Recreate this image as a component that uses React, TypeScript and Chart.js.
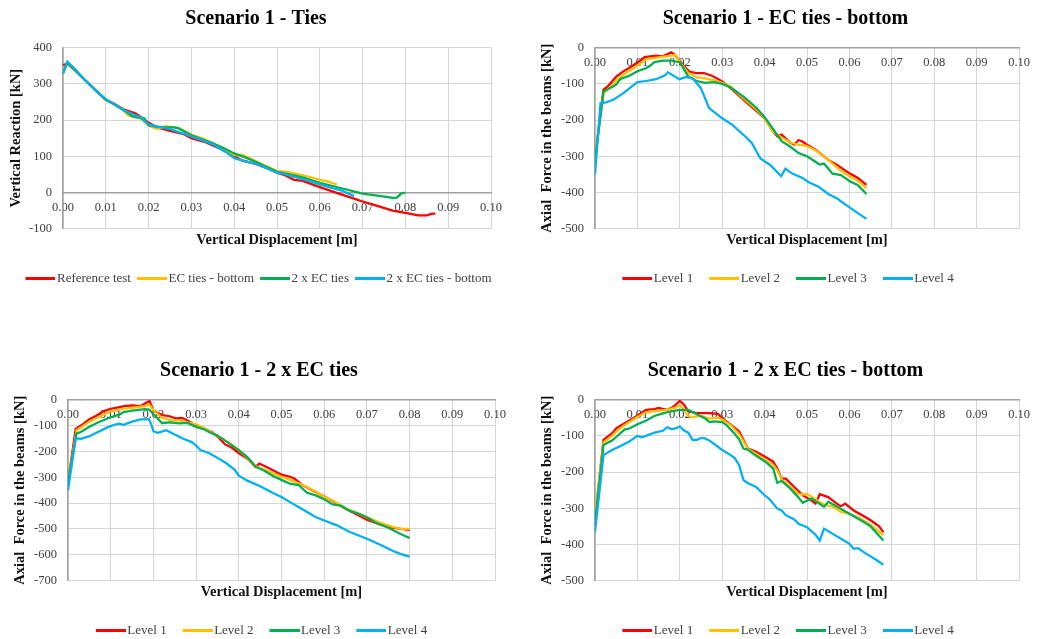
import React, { useEffect, useRef } from 'react';
import { Chart, registerables } from 'chart.js';

Chart.register(...registerables);

// ---------------- Colours ----------------
const RED = '#ff0000';
const YELLOW = '#ffc000';
const GREEN = '#00b050';
const BLUE = '#00b0f0';

// ---------------- Tick settings ----------------
const X_MIN = 0;
const X_MAX = 0.1;
const X_STEP = 0.01;
const Y_STEP = 100;

// ---------------- Panel 1 : Scenario 1 - Ties ----------------
const p1RefX = [0, 0.001, 0.003, 0.005, 0.008, 0.01, 0.012, 0.014, 0.015, 0.017, 0.02, 0.022, 0.025, 0.028, 0.03, 0.033, 0.035, 0.038, 0.04, 0.042, 0.045, 0.048, 0.05, 0.052, 0.054, 0.056, 0.06, 0.065, 0.068, 0.07, 0.074, 0.077, 0.08, 0.083, 0.085, 0.086, 0.087];
const p1RefY = [352, 356, 335, 312, 278, 256, 245, 230, 226, 218, 193, 180, 170, 162, 150, 140, 130, 114, 100, 88, 79, 66, 55, 47, 35, 32, 15, -5, -17, -25, -39, -50, -56, -63, -63, -59, -58];
const p1EcbX = [0, 0.001, 0.003, 0.005, 0.008, 0.01, 0.012, 0.014, 0.015, 0.016, 0.018, 0.02, 0.022, 0.024, 0.026, 0.027, 0.03, 0.033, 0.035, 0.038, 0.04, 0.042, 0.045, 0.048, 0.05, 0.052, 0.055, 0.058, 0.06, 0.062, 0.064];
const p1EcbY = [330, 358, 336, 312, 278, 256, 243, 228, 215, 210, 205, 185, 175, 183, 180, 178, 160, 148, 136, 118, 103, 104, 87, 70, 60, 58, 50, 42, 35, 30, 22];
const p1Ec2X = [0, 0.001, 0.003, 0.005, 0.008, 0.01, 0.012, 0.014, 0.016, 0.017, 0.019, 0.02, 0.022, 0.024, 0.026, 0.027, 0.03, 0.033, 0.035, 0.038, 0.04, 0.043, 0.045, 0.048, 0.05, 0.053, 0.056, 0.06, 0.063, 0.066, 0.07, 0.073, 0.076, 0.077, 0.078, 0.079, 0.08];
const p1Ec2Y = [330, 358, 336, 312, 278, 256, 243, 230, 212, 208, 205, 185, 182, 180, 180, 177, 158, 145, 136, 120, 108, 95, 85, 68, 57, 50, 42, 27, 18, 9, -3, -8, -13, -15, -14, -3, 0];
const p1Ec2bX = [0, 0.001, 0.003, 0.005, 0.008, 0.01, 0.012, 0.014, 0.016, 0.018, 0.02, 0.022, 0.025, 0.028, 0.03, 0.033, 0.035, 0.038, 0.04, 0.042, 0.045, 0.048, 0.05, 0.052, 0.055, 0.058, 0.06, 0.063, 0.065, 0.068];
const p1Ec2bY = [328, 362, 338, 312, 278, 258, 244, 228, 218, 208, 188, 182, 175, 163, 155, 142, 133, 112, 95, 88, 80, 65, 55, 50, 40, 30, 22, 12, 6, -10];

// ---------------- Panel 2 : Scenario 1 - EC ties - bottom ----------------
const p2L1X = [0, 0.002, 0.003, 0.005, 0.0066, 0.0086, 0.01, 0.0117, 0.0144, 0.016, 0.018, 0.0187, 0.0195, 0.0207, 0.0222, 0.0238, 0.0257, 0.0277, 0.03, 0.0324, 0.0355, 0.0378, 0.04, 0.042, 0.043, 0.044, 0.046, 0.047, 0.048, 0.049, 0.05, 0.052, 0.055, 0.057, 0.06, 0.062, 0.064];
const p2L1Y = [-306, -116, -107, -80, -66, -52, -41, -26, -22, -24, -13, -19, -29, -47, -66, -70, -70, -78, -93, -116, -149, -172, -195, -232, -245, -240, -262, -268, -255, -260, -268, -282, -310, -323, -347, -360, -379];
const p2L2X = [0, 0.002, 0.004, 0.005, 0.007, 0.01, 0.012, 0.015, 0.018, 0.019, 0.02, 0.022, 0.024, 0.026, 0.028, 0.03, 0.032, 0.035, 0.038, 0.04, 0.042, 0.044, 0.046, 0.048, 0.05, 0.052, 0.055, 0.058, 0.06, 0.062, 0.064];
const p2L2Y = [-300, -126, -105, -90, -72, -50, -32, -27, -22, -20, -40, -70, -82, -85, -90, -97, -108, -140, -170, -195, -232, -248, -262, -268, -272, -283, -310, -340, -355, -368, -388];
const p2L3X = [0, 0.002, 0.003, 0.005, 0.006, 0.008, 0.01, 0.012, 0.013, 0.014, 0.016, 0.018, 0.02, 0.021, 0.022, 0.024, 0.026, 0.028, 0.03, 0.032, 0.035, 0.038, 0.04, 0.042, 0.044, 0.046, 0.048, 0.05, 0.052, 0.053, 0.054, 0.056, 0.058, 0.06, 0.062, 0.064];
const p2L3Y = [-310, -121, -115, -102, -86, -78, -65, -57, -50, -40, -36, -36, -40, -60, -80, -92, -97, -95, -100, -110, -135, -165, -192, -225, -258, -273, -291, -300, -315, -323, -320, -348, -352, -368, -380, -404];
const p2L4X = [0, 0.0013, 0.0023, 0.0043, 0.0066, 0.01, 0.012, 0.0144, 0.0165, 0.0172, 0.0199, 0.0215, 0.023, 0.025, 0.0269, 0.03, 0.0324, 0.0355, 0.037, 0.039, 0.0413, 0.0439, 0.0449, 0.0464, 0.0488, 0.0503, 0.0527, 0.055, 0.057, 0.06, 0.062, 0.064];
const p2L4Y = [-350, -153, -152, -144, -126, -95, -92, -87, -76, -68, -87, -81, -84, -112, -167, -195, -213, -246, -264, -306, -324, -355, -334, -347, -359, -371, -384, -404, -416, -441, -457, -473];

// ---------------- Panel 3 : Scenario 1 - 2 x EC ties ----------------
const p3L1X = [0, 0.0018, 0.0034, 0.0049, 0.0065, 0.0084, 0.01, 0.0115, 0.0131, 0.015, 0.017, 0.0181, 0.0191, 0.0201, 0.0213, 0.0224, 0.0236, 0.0252, 0.0267, 0.0283, 0.03, 0.0322, 0.0337, 0.0353, 0.0368, 0.0384, 0.04, 0.0423, 0.0439, 0.0448, 0.047, 0.05, 0.052, 0.053, 0.055, 0.058, 0.06, 0.062, 0.065, 0.068, 0.07, 0.073, 0.076, 0.078, 0.08];
const p3L1Y = [-320, -113, -96, -76, -63, -44, -35, -31, -25, -22, -25, -14, -5, -44, -53, -61, -63, -72, -70, -83, -102, -115, -125, -147, -173, -186, -206, -232, -260, -247, -264, -290, -298, -305, -331, -357, -374, -392, -422, -447, -464, -482, -495, -500, -503];
const p3L2X = [0, 0.002, 0.005, 0.01, 0.013, 0.015, 0.018, 0.019, 0.02, 0.022, 0.024, 0.026, 0.028, 0.03, 0.032, 0.035, 0.038, 0.04, 0.042, 0.044, 0.046, 0.048, 0.05, 0.052, 0.055, 0.058, 0.06, 0.062, 0.065, 0.068, 0.07, 0.073, 0.076, 0.078, 0.08];
const p3L2Y = [-320, -118, -85, -45, -35, -32, -25, -18, -40, -70, -80, -80, -88, -95, -110, -140, -170, -195, -225, -258, -270, -285, -298, -310, -330, -355, -375, -390, -420, -440, -455, -475, -492, -500, -500];
const p3L3X = [0, 0.002, 0.003, 0.005, 0.007, 0.01, 0.012, 0.013, 0.015, 0.018, 0.019, 0.02, 0.022, 0.024, 0.026, 0.028, 0.03, 0.032, 0.033, 0.035, 0.038, 0.04, 0.042, 0.044, 0.046, 0.048, 0.05, 0.052, 0.054, 0.056, 0.058, 0.06, 0.062, 0.064, 0.066, 0.068, 0.07, 0.072, 0.075, 0.078, 0.08];
const p3L3Y = [-320, -130, -125, -105, -88, -68, -58, -48, -42, -36, -38, -55, -90, -88, -92, -90, -105, -115, -125, -138, -172, -195, -222, -260, -275, -295, -310, -325, -330, -360, -370, -385, -405, -410, -430, -440, -455, -475, -495, -520, -535];
const p3L4X = [0, 0.0018, 0.003, 0.005, 0.007, 0.009, 0.01, 0.011, 0.012, 0.013, 0.015, 0.017, 0.019, 0.0195, 0.02, 0.021, 0.023, 0.025, 0.027, 0.029, 0.03, 0.031, 0.033, 0.035, 0.037, 0.039, 0.04, 0.042, 0.045, 0.048, 0.05, 0.052, 0.055, 0.058, 0.06, 0.063, 0.066, 0.07, 0.073, 0.076, 0.078, 0.08];
const p3L4Y = [-350, -150, -151, -141, -125, -109, -102, -96, -93, -97, -85, -76, -76, -96, -122, -128, -118, -135, -151, -164, -177, -195, -206, -225, -245, -270, -294, -313, -335, -361, -376, -396, -425, -454, -467, -486, -512, -538, -560, -584, -597, -607];

// ---------------- Panel 4 : Scenario 1 - 2 x EC ties - bottom ----------------
const p4L1X = [0, 0.002, 0.004, 0.005, 0.007, 0.009, 0.01, 0.012, 0.014, 0.015, 0.017, 0.018, 0.019, 0.02, 0.021, 0.022, 0.024, 0.027, 0.029, 0.03, 0.032, 0.034, 0.035, 0.036, 0.038, 0.04, 0.042, 0.043, 0.044, 0.045, 0.047, 0.049, 0.051, 0.052, 0.053, 0.055, 0.057, 0.058, 0.059, 0.061, 0.063, 0.065, 0.067, 0.068];
const p4L1Y = [-330, -111, -93, -79, -65, -51, -44, -28, -26, -23, -28, -23, -14, -3, -14, -32, -37, -37, -39, -51, -69, -88, -111, -134, -144, -157, -171, -190, -218, -218, -241, -264, -278, -287, -261, -269, -287, -294, -287, -306, -319, -333, -350, -366];
const p4L2X = [0, 0.002, 0.004, 0.005, 0.007, 0.01, 0.012, 0.015, 0.017, 0.019, 0.02, 0.021, 0.022, 0.023, 0.025, 0.027, 0.029, 0.03, 0.032, 0.034, 0.035, 0.036, 0.038, 0.04, 0.042, 0.043, 0.044, 0.046, 0.048, 0.049, 0.05, 0.052, 0.054, 0.056, 0.058, 0.06, 0.062, 0.065, 0.068];
const p4L2Y = [-320, -118, -100, -88, -70, -48, -35, -30, -28, -22, -15, -28, -45, -48, -45, -52, -50, -55, -70, -95, -115, -135, -150, -165, -180, -195, -220, -240, -260, -262, -260, -275, -290, -295, -310, -315, -325, -345, -375];
const p4L3X = [0, 0.002, 0.004, 0.005, 0.007, 0.008, 0.01, 0.012, 0.014, 0.016, 0.018, 0.02, 0.022, 0.024, 0.026, 0.027, 0.028, 0.03, 0.031, 0.033, 0.034, 0.035, 0.036, 0.038, 0.04, 0.042, 0.043, 0.044, 0.046, 0.048, 0.049, 0.051, 0.052, 0.054, 0.055, 0.057, 0.06, 0.063, 0.065, 0.068];
const p4L3Y = [-340, -125, -113, -103, -82, -80, -68, -58, -45, -38, -32, -28, -28, -40, -52, -62, -60, -62, -70, -95, -110, -135, -138, -155, -170, -190, -230, -224, -245, -270, -285, -273, -280, -296, -282, -295, -315, -335, -350, -389];
const p4L4X = [0, 0.002, 0.004, 0.006, 0.008, 0.01, 0.011, 0.012, 0.014, 0.016, 0.017, 0.018, 0.019, 0.02, 0.021, 0.022, 0.023, 0.024, 0.025, 0.026, 0.027, 0.029, 0.03, 0.032, 0.033, 0.034, 0.035, 0.036, 0.038, 0.04, 0.041, 0.042, 0.043, 0.044, 0.045, 0.047, 0.048, 0.05, 0.052, 0.053, 0.054, 0.056, 0.058, 0.06, 0.061, 0.062, 0.064, 0.066, 0.068];
const p4L4Y = [-365, -153, -139, -128, -116, -100, -104, -100, -91, -86, -76, -81, -79, -74, -85, -91, -111, -111, -106, -107, -113, -130, -139, -153, -162, -181, -222, -230, -241, -264, -273, -287, -301, -306, -319, -331, -343, -352, -373, -389, -356, -370, -384, -398, -412, -410, -426, -440, -456];

// ---------------- Labels ----------------
const P1_TITLE = 'Scenario 1 - Ties';
const P2_TITLE = 'Scenario 1 - EC ties - bottom';
const P3_TITLE = 'Scenario 1 - 2 x EC ties';
const P4_TITLE = 'Scenario 1 - 2 x EC ties - bottom';
const X_TITLE = 'Vertical Displacement [m]';
const Y_TITLE_1 = 'Vertical Reaction [kN]';
const Y_TITLE_AXIAL = 'Axial  Force in the beams [kN]';
const P1_LABELS = ['Reference test', 'EC ties - bottom', '2 x EC ties', '2 x EC ties - bottom'];
const LEVEL_LABELS = ['Level 1', 'Level 2', 'Level 3', 'Level 4'];
const COLORS = [RED, YELLOW, GREEN, BLUE];

type Series = { xs: number[]; ys: number[] };

interface PanelDef {
  left: number;
  top: number;
  width: number;
  height: number;
  title: string;
  yTitle: string;
  yMin: number;
  yMax: number;
  yAxisWidth: number;
  yTitlePad: number;
  rightPad: number;
  legendGap: number;
  labels: string[];
  series: Series[];
}

const PANELS: PanelDef[] = [
  {
    left: 0, top: 0, width: 512, height: 295,
    title: P1_TITLE, yTitle: Y_TITLE_1, yMin: -100, yMax: 400,
    yAxisWidth: 63, yTitlePad: 7.8, rightPad: 21, legendGap: 1,
    labels: P1_LABELS,
    series: [
      { xs: p1RefX, ys: p1RefY },
      { xs: p1EcbX, ys: p1EcbY },
      { xs: p1Ec2X, ys: p1Ec2Y },
      { xs: p1Ec2bX, ys: p1Ec2bY },
    ],
  },
  {
    left: 533, top: 0, width: 505, height: 295,
    title: P2_TITLE, yTitle: Y_TITLE_AXIAL, yMin: -500, yMax: 0,
    yAxisWidth: 62, yTitlePad: 5.8, rightPad: 16, legendGap: 11,
    labels: LEVEL_LABELS,
    series: [
      { xs: p2L1X, ys: p2L1Y },
      { xs: p2L2X, ys: p2L2Y },
      { xs: p2L3X, ys: p2L3Y },
      { xs: p2L4X, ys: p2L4Y },
    ],
  },
  {
    left: 0, top: 352, width: 518, height: 295,
    title: P3_TITLE, yTitle: Y_TITLE_AXIAL, yMin: -700, yMax: 0,
    yAxisWidth: 68, yTitlePad: 12, rightPad: 23, legendGap: 11,
    labels: LEVEL_LABELS,
    series: [
      { xs: p3L1X, ys: p3L1Y },
      { xs: p3L2X, ys: p3L2Y },
      { xs: p3L3X, ys: p3L3Y },
      { xs: p3L4X, ys: p3L4Y },
    ],
  },
  {
    left: 533, top: 352, width: 505, height: 295,
    title: P4_TITLE, yTitle: Y_TITLE_AXIAL, yMin: -500, yMax: 0,
    yAxisWidth: 62, yTitlePad: 5.8, rightPad: 16, legendGap: 11,
    labels: LEVEL_LABELS,
    series: [
      { xs: p4L1X, ys: p4L1Y },
      { xs: p4L2X, ys: p4L2Y },
      { xs: p4L3X, ys: p4L3Y },
      { xs: p4L4X, ys: p4L4Y },
    ],
  },
];

const FONT_FAMILY = "'Liberation Serif', 'Times New Roman', serif";
const TEXT_GRAY = '#404040';
const GRID = '#d6d6d6';
const AXIS_LINE = '#a0a0a0';

function legendLine(color: string): HTMLCanvasElement {
  const c = document.createElement('canvas');
  c.width = 40;
  c.height = 3;
  const ctx = c.getContext('2d');
  if (ctx) {
    ctx.fillStyle = color;
    ctx.fillRect(10, 0, 30, 3);
  }
  return c;
}

function buildChart(canvas: HTMLCanvasElement, p: PanelDef): Chart {
  const images = COLORS.map(legendLine);
  const n = p.series.length;
  const datasets = p.series.map((s, i) => ({
    label: p.labels[i],
    data: s.xs.map((x, j) => ({ x, y: s.ys[j] })),
    borderColor: COLORS[i],
    backgroundColor: COLORS[i],
    borderWidth: 2.25,
    pointRadius: 0,
    pointHoverRadius: 0,
    showLine: true,
    tension: 0,
    order: n - 1 - i,
  }));

  return new Chart(canvas, {
    type: 'scatter',
    data: { datasets },
    options: {
      responsive: false,
      animation: false,
      events: [],
      font: { family: FONT_FAMILY },
      layout: { padding: 0 },
      scales: {
        x: {
          type: 'linear',
          position: { y: 0 } as any,
          min: X_MIN,
          max: X_MAX,
          ticks: {
            stepSize: X_STEP,
            autoSkip: false,
            maxRotation: 0,
            padding: 8,
            color: TEXT_GRAY,
            font: { family: FONT_FAMILY, size: 12.5 },
            callback: (v: any) => Number(v).toFixed(2),
          },
          grid: { color: GRID, lineWidth: 1, drawTicks: false },
          border: { display: true, color: AXIS_LINE, width: 1.5 },
        },
        y: {
          type: 'linear',
          position: 'left',
          min: p.yMin,
          max: p.yMax,
          ticks: {
            stepSize: Y_STEP,
            padding: 11,
            color: TEXT_GRAY,
            font: { family: FONT_FAMILY, size: 12.5 },
          },
          grid: { color: GRID, lineWidth: 1, drawTicks: false },
          border: { display: true, color: AXIS_LINE, width: 1.5 },
          title: {
            display: true,
            text: p.yTitle,
            color: '#111',
            font: { family: FONT_FAMILY, size: 14.5, weight: 'bold' },
            padding: { top: p.yTitlePad, bottom: 0 },
          },
          afterFit: (s: any) => { s.width = p.yAxisWidth; },
        },
        yPad: {
          type: 'linear',
          axis: 'y',
          position: 'right',
          display: true,
          ticks: { display: false },
          grid: { display: false, drawTicks: false },
          border: { display: false },
          afterFit: (s: any) => { s.width = p.rightPad; },
        } as any,
      },
      plugins: {
        title: {
          display: true,
          text: p.title,
          color: '#000',
          font: { family: FONT_FAMILY, size: 20, weight: 'bold' },
          padding: { top: 7, bottom: 16.7 },
        },
        subtitle: {
          display: true,
          text: X_TITLE,
          position: 'bottom',
          fullSize: false,
          weight: 500,
          color: '#111',
          font: { family: FONT_FAMILY, size: 14.5, weight: 'bold' },
          padding: { top: 2.6, bottom: 23.3 - p.legendGap },
        } as any,
        legend: {
          display: true,
          position: 'bottom',
          labels: {
            usePointStyle: true,
            pointStyleWidth: 30,
            boxHeight: 13,
            padding: p.legendGap,
            color: TEXT_GRAY,
            font: { family: FONT_FAMILY, size: 13 },
            sort: (a: any, b: any) => a.datasetIndex - b.datasetIndex,
            generateLabels: (chart: any) =>
              Chart.defaults.plugins.legend.labels
                .generateLabels(chart)
                .map((l: any) => ({ ...l, pointStyle: images[l.datasetIndex] })),
          },
        },
        tooltip: { enabled: false },
      },
    } as any,
  });
}

function Panel({ def }: { def: PanelDef }) {
  const ref = useRef<HTMLCanvasElement | null>(null);
  useEffect(() => {
    if (!ref.current) return;
    const chart = buildChart(ref.current, def);
    return () => chart.destroy();
  }, [def]);
  return (
    <canvas
      ref={ref}
      width={def.width}
      height={def.height}
      style={{ position: 'absolute', left: def.left, top: def.top, width: def.width, height: def.height }}
    />
  );
}

export default function App() {
  return (
    <div
      style={{
        position: 'absolute',
        left: 0,
        top: 0,
        width: 1038,
        height: 639,
        overflow: 'hidden',
        background: '#ffffff',
      }}
    >
      {PANELS.map((d, i) => (
        <Panel key={i} def={d} />
      ))}
    </div>
  );
}
